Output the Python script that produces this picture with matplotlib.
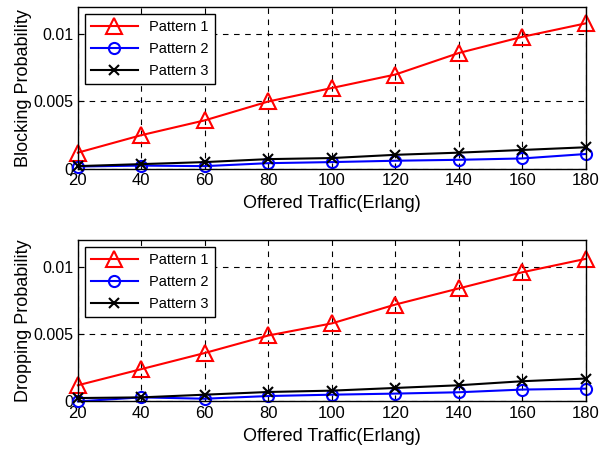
import matplotlib
matplotlib.use("Agg")
import matplotlib.pyplot as plt

plt.rcParams['font.family'] = ['Liberation Sans', 'DejaVu Sans']

# Offered traffic values (Erlang)
traffic = [20, 40, 60, 80, 100, 120, 140, 160, 180]

# Blocking probability per pattern
block_p1 = [0.0012, 0.0025, 0.0036, 0.0050, 0.0060, 0.0070, 0.0086, 0.0098, 0.0108]
block_p2 = [0.00017, 0.00024, 0.0002, 0.00042, 0.0005, 0.0006, 0.00067, 0.00077, 0.0011]
block_p3 = [0.0002, 0.00035, 0.0005, 0.00072, 0.0008, 0.00104, 0.0012, 0.0014, 0.0016]

# Dropping probability per pattern
drop_p1 = [0.0012, 0.0024, 0.0036, 0.0049, 0.0058, 0.0072, 0.0084, 0.0096, 0.0106]
drop_p2 = [0.0, 0.0003, 0.0002, 0.0004, 0.0005, 0.00058, 0.00068, 0.00088, 0.00095]
drop_p3 = [0.00025, 0.0003, 0.0005, 0.0007, 0.0008, 0.001, 0.0012, 0.0015, 0.0017]

labels = ["Pattern 1", "Pattern 2", "Pattern 3"]
y_ticks = [0, 0.005, 0.01]
y_tick_labels = ["0", "0.005", "0.01"]

fig = plt.figure(figsize=(5.99, 4.49), dpi=100)
ax_top = fig.add_axes([0.130, 0.624, 0.848, 0.360])
ax_bot = fig.add_axes([0.130, 0.106, 0.848, 0.3595])

panels = [
    (ax_top, block_p1, block_p2, block_p3, "Blocking Probability"),
    (ax_bot, drop_p1, drop_p2, drop_p3, "Dropping Probability"),
]

for ax, p1, p2, p3, ylab in panels:
    ax.plot(traffic, p1, color="red", marker="^", markersize=12, markerfacecolor="none",
            markeredgewidth=1.5, linewidth=1.5, label=labels[0], clip_on=False)
    ax.plot(traffic, p2, color="blue", marker="o", markersize=8, markerfacecolor="none",
            markeredgewidth=1.5, linewidth=1.5, label=labels[1], clip_on=False)
    ax.plot(traffic, p3, color="black", marker="x", markersize=7, markeredgewidth=1.5,
            linewidth=1.5, label=labels[2], clip_on=False)
    ax.set_xlim(20, 180)
    ax.set_ylim(0, 0.012)
    ax.set_xticks(traffic)
    ax.set_yticks(y_ticks)
    ax.set_yticklabels(y_tick_labels)
    ax.tick_params(direction="in", labelsize=12, length=4)
    ax.tick_params(axis="x", pad=3)
    ax.tick_params(axis="y", pad=3, labelsize=11.5)
    ax.grid(True, color="black", linestyle=(0, (5, 5)), linewidth=0.8)
    ax.set_xlabel("Offered Traffic(Erlang)", fontsize=13, labelpad=5)
    ax.set_ylabel(ylab, fontsize=13, labelpad=1)
    leg = ax.legend(loc="upper left", fontsize=10.5, fancybox=False, framealpha=1,
                    edgecolor="black", handlelength=3.2, borderaxespad=0.5,
                    labelspacing=0.55)
    leg.get_frame().set_linewidth(1.0)
    for sp in ax.spines.values():
        sp.set_linewidth(1.0)

fig.savefig("out.png", dpi=100)
